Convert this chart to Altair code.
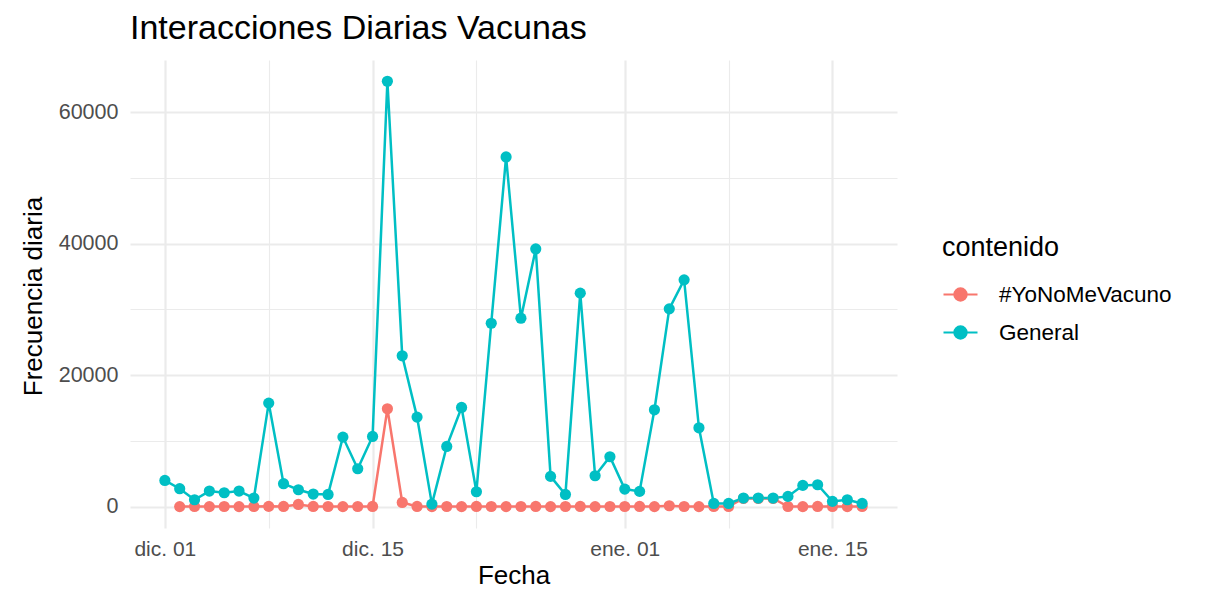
import altair as alt
import pandas as pd

# ---- data ----
fechas = pd.date_range("2020-12-01", "2021-01-17").strftime("%Y-%m-%d").tolist()

general = [4000, 2740, 1060, 2380, 2130, 2380, 1320,
           15760, 3500, 2580, 1930, 1870, 10590, 5780,
           10690, 64700, 22950, 13630, 400, 9170, 15100,
           2280, 27900, 53190, 28670, 39200, 4610, 1870,
           32480, 4710, 7600,
           2680, 2330, 14740, 30090, 34500, 12000, 500,
           500, 1320, 1320, 1320, 1570, 3240, 3340,
           810, 1060, 500]

# #YoNoMeVacuno starts on dic. 02
yonome = [20, 30, 20, 30, 20, 30, 60, 40,
          350, 40, 30, 20, 30, 40,
          14890, 650, 40, 20, 30, 20, 40, 30, 20, 30, 40, 20, 30, 40, 20, 30,
          30, 40, 20, 150, 30, 20, 40, 30,
          1250, 1250, 1250, 30, 20, 40, 30, 20, 30]

series_names = ["#YoNoMeVacuno", "General"]
colores = ["#F8766D", "#00BFC4"]

rows = []
for f, v in zip(fechas[1:], yonome):
    rows.append({"fecha": f, "n": v, "contenido": series_names[0], "orden": 0})
for f, v in zip(fechas, general):
    rows.append({"fecha": f, "n": v, "contenido": series_names[1], "orden": 1})
df = pd.DataFrame(rows)

FONT = "Liberation Sans"

x_vals = [alt.DateTime(year=2020, month=12, date=d, utc=True) for d in (1, 8, 15, 22)] + \
         [alt.DateTime(year=2021, month=1, date=d, utc=True) for d in (1, 8, 15)]

x_label_expr = ("(utcdate(datum.value) == 1 || utcdate(datum.value) == 15) ? "
                "((utcmonth(datum.value) == 11 ? 'dic. ' : 'ene. ') + "
                "(utcdate(datum.value) < 10 ? '0' : '') + utcdate(datum.value)) : ''")

x = alt.X(
    "fecha:T",
    title="Fecha",
    scale=alt.Scale(
        type="utc",
        domain=[alt.DateTime(year=2020, month=11, date=28, hours=15, minutes=36, utc=True),
                alt.DateTime(year=2021, month=1, date=19, hours=8, minutes=24, utc=True)],
    ),
    axis=alt.Axis(
        values=x_vals,
        labelExpr=x_label_expr,
        domain=False, ticks=False,
        gridColor="#EBEBEB",
        gridWidth={"condition": {"test": "utcdate(datum.value) == 1 || utcdate(datum.value) == 15", "value": 2.2},
                   "value": 1.1},
        labelFont=FONT, labelFontSize=21, labelColor="#4D4D4D", labelPadding=10,
        labelFlush=False, labelOverlap=False,
        titleFont=FONT, titleFontSize=26, titleFontWeight="normal", titleColor="#000000",
        titlePadding=3,
    ),
)

y = alt.Y(
    "n:Q",
    title="Frecuencia diaria",
    scale=alt.Scale(domain=[-3235, 67935], nice=False, zero=False),
    axis=alt.Axis(
        values=[0, 10000, 20000, 30000, 40000, 50000, 60000],
        labelExpr="datum.value % 20000 == 0 ? format(datum.value, 'd') : ''",
        domain=False, ticks=False,
        gridColor="#EBEBEB",
        gridWidth={"condition": {"test": "datum.value % 20000 == 0", "value": 2.2},
                   "value": 1.1},
        labelFont=FONT, labelFontSize=21.5, labelColor="#4D4D4D", labelPadding=12,
        labelOverlap=False,
        titleFont=FONT, titleFontSize=26, titleFontWeight="normal", titleColor="#000000",
        titleX=-97, titleY=236, titleBaseline="middle", titleAlign="center", titleAngle=270,
    ),
)

color = alt.Color(
    "contenido:N",
    scale=alt.Scale(domain=series_names, range=colores),
    legend=alt.Legend(
        title="contenido",
        orient="none", legendX=812, legendY=175,
        titleFont=FONT, titleFontSize=27, titleFontWeight="normal", titleColor="#000000",
        titlePadding=14,
        labelFont=FONT, labelFontSize=22.5, labelColor="#000000", labelOffset=20,
        labelLimit=400,
        symbolType="M-1,0H1M-0.36,0a0.36,0.36 0 1,0 0.72,0a0.36,0.36 0 1,0 -0.72,0",
        symbolSize=1156, symbolStrokeWidth=2.2, rowPadding=8,
    ),
)

base = alt.Chart(df).encode(x=x, y=y, color=color)

lines = base.mark_line(strokeWidth=2.5).encode(detail="contenido:N")
points = base.mark_circle(size=125, opacity=1).encode(order=alt.Order("orden:Q"))

chart = (
    alt.layer(lines, points)
    .properties(
        width=767, height=468,
        title=alt.TitleParams(
            "Interacciones Diarias Vacunas", anchor="start", frame="group", font=FONT,
            fontSize=34, fontWeight="normal", color="#000000", offset=14,
        ),
        autosize=alt.AutoSizeParams(type="none"),
        padding={"left": 122, "top": 52, "right": 300, "bottom": 60},
    )
    .configure(background="#FFFFFF")
    .configure_view(strokeWidth=0, stroke="transparent")
)

chart.save("out.html", embed_options={"renderer": "svg", "actions": False})
